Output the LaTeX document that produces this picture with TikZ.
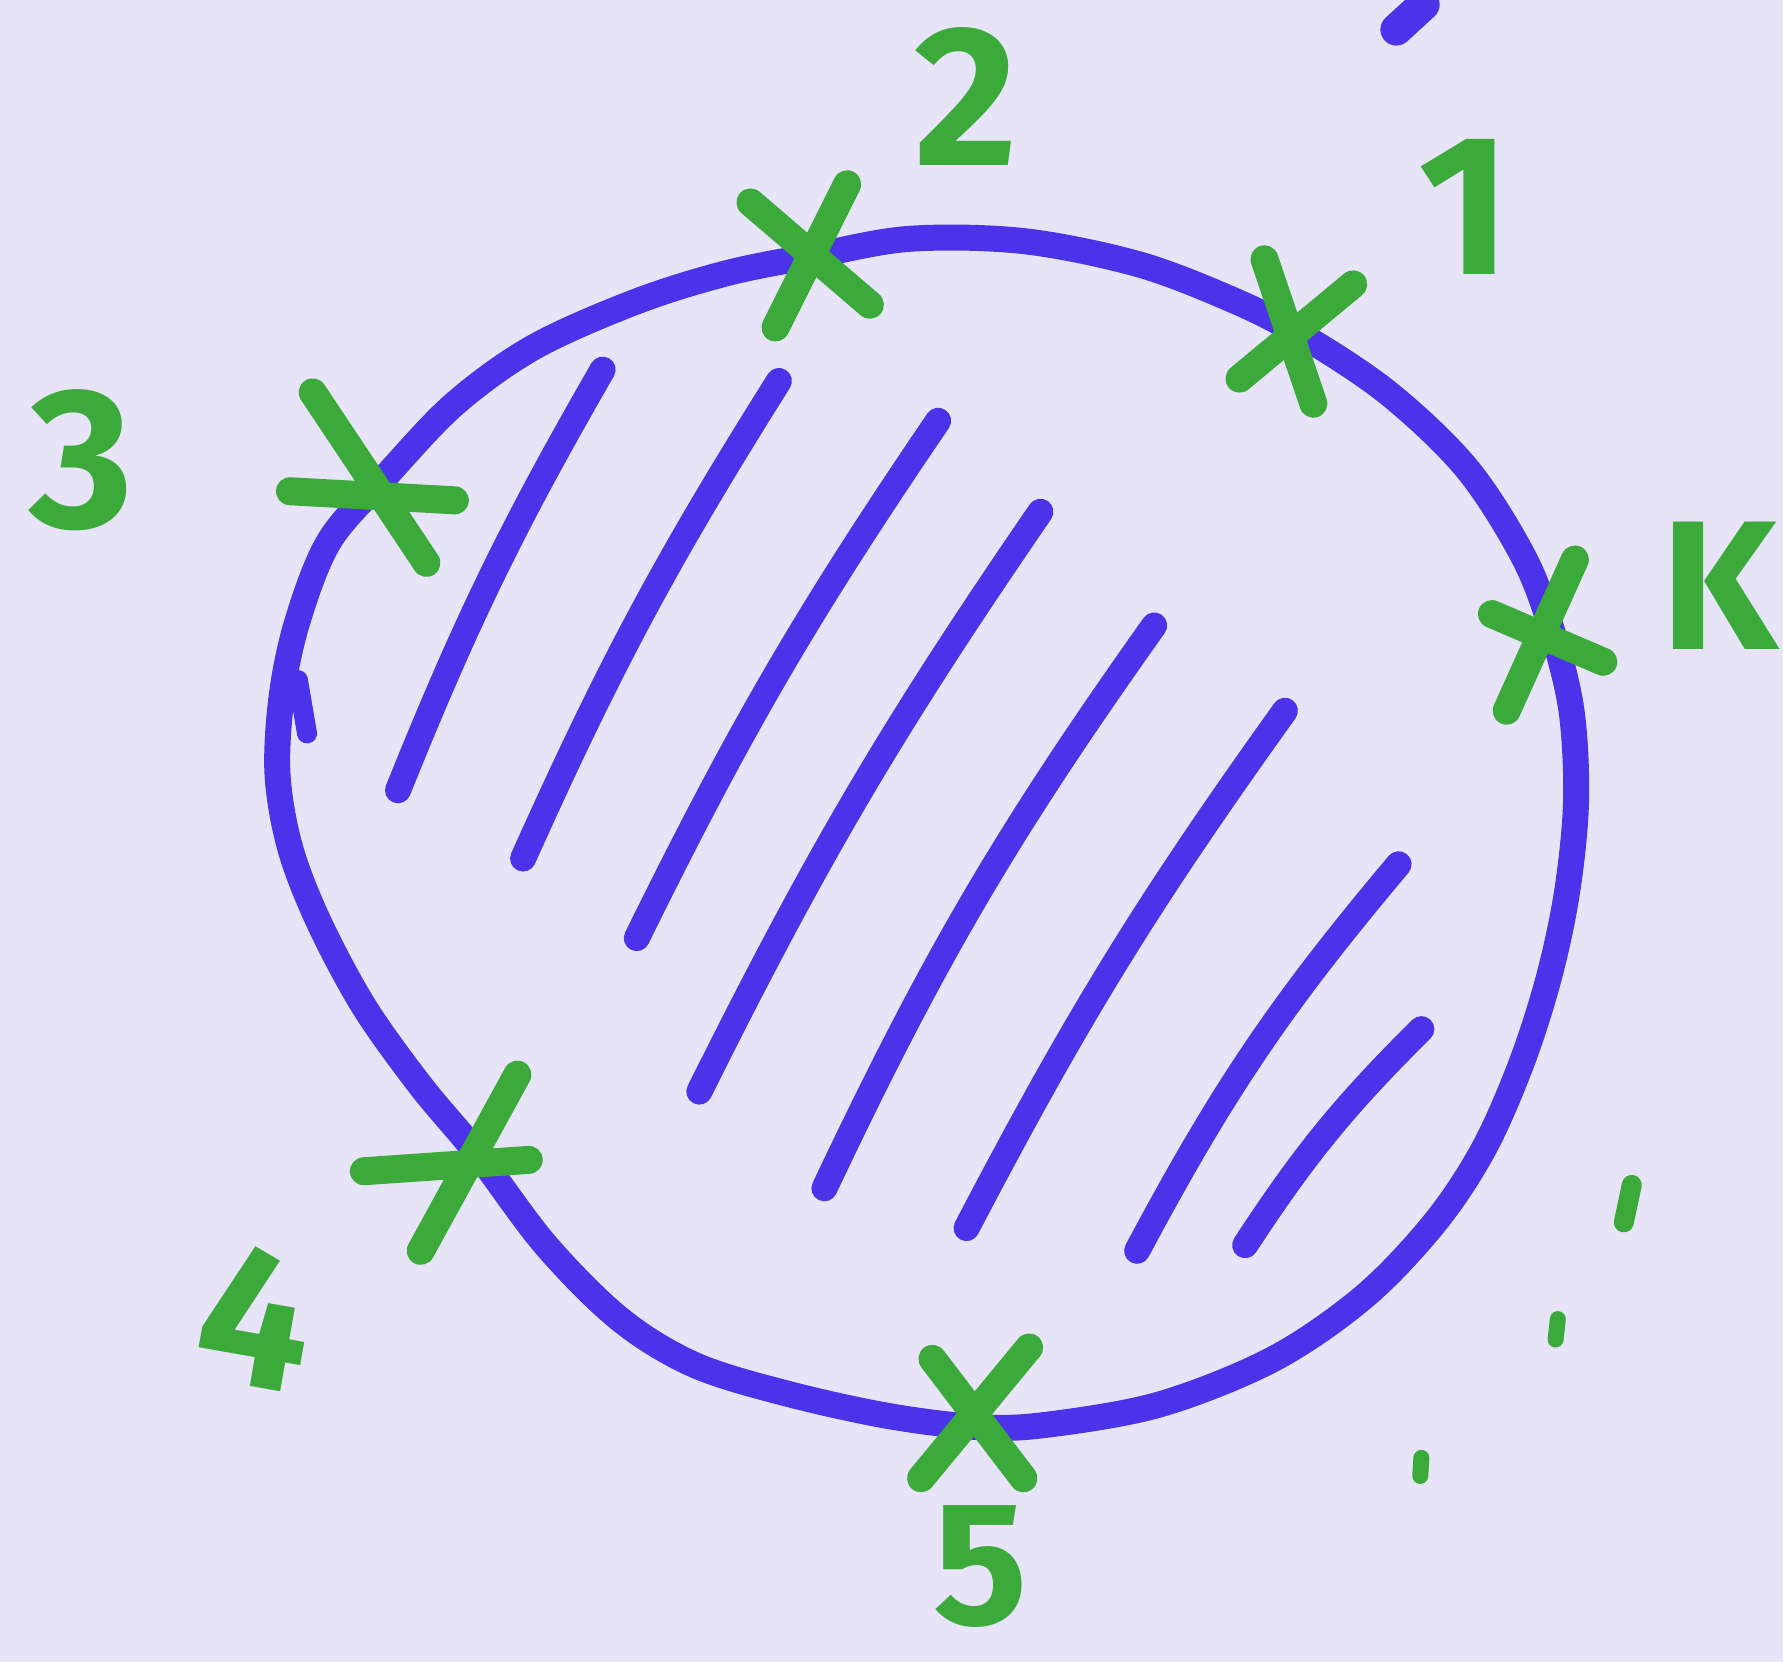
\documentclass[tikz,border=0pt]{standalone}
\usepackage{fontspec}
\setmainfont{Fira Sans}
\definecolor{bg}{HTML}{E8E4F8}
\definecolor{ink}{HTML}{4A33E8}
\definecolor{mark}{HTML}{3BAA3A}
\begin{document}
\begin{tikzpicture}[x=0.01cm,y=-0.01cm,
  blueline/.style={draw=ink,line width=6.5pt,line cap=round,line join=round},
  greenline/.style={draw=mark,line width=7pt,line cap=round},
  lbl/.style={text=mark,font=\fontsize{50}{50}\selectfont\bfseries,inner sep=0pt}]
\fill[bg] (0,0) rectangle (1568,1462);
\useasboundingbox (0,0) rectangle (1568,1462);
% outline
\draw[blueline] plot[smooth cycle,tension=0.55] coordinates {
 (715,225) (800,210) (900,212) (1000,232) (1080,262) (1140,292) (1220,345)
 (1290,412) (1340,490) (1365,555) (1382,625) (1386,705) (1378,785) (1362,860)
 (1338,935) (1305,1010) (1262,1075) (1200,1140) (1120,1195) (1020,1235)
 (920,1253) (860,1255) (780,1245) (690,1225) (610,1200) (545,1160) (480,1095)
 (420,1015) (370,955) (320,885) (280,810) (255,745) (244,680) (248,610)
 (262,545) (290,475) (340,418) (400,355) (470,305) (560,265) (640,240)};
\draw[blueline,line width=5pt] (262,598) -- (270,645);
% hatching
\draw[blueline] (530,325) to[bend right=4] (350,695);
\draw[blueline] (685,335) to[bend right=4] (460,755);
\draw[blueline] (825,370) to[bend right=4] (560,825);
\draw[blueline] (915,450) to[bend right=4] (615,960);
\draw[blueline] (1015,550) to[bend right=5] (725,1045);
\draw[blueline] (1130,625) to[bend right=4] (850,1080);
\draw[blueline] (1230,760) to[bend right=6] (1000,1100);
\draw[blueline] (1250,905) to[bend right=6] (1095,1095);
\draw[blueline,line width=8pt] (1252,4) -- (1228,26);
% crosses
\draw[greenline] (660,178) -- (765,268);
\draw[greenline] (745,162) -- (682,288);
\draw[greenline] (1112,228) -- (1155,355);
\draw[greenline] (1090,333) -- (1190,250);
\draw[greenline] (275,345) -- (375,495);
\draw[greenline] (255,432) -- (400,440);
\draw[greenline] (1385,492) -- (1325,625);
\draw[greenline] (1312,540) -- (1410,582);
\draw[greenline] (455,945) -- (370,1100);
\draw[greenline] (320,1030) -- (465,1020);
\draw[greenline] (905,1185) -- (810,1300);
\draw[greenline] (820,1195) -- (900,1300);
% specks
\draw[greenline,line width=5pt] (1435,1042) -- (1428,1075);
\draw[greenline,line width=4pt] (1370,1160) -- (1368,1178);
\draw[greenline,line width=4pt] (1250,1282) -- (1249,1298);
% labels
\node[lbl] (l2) at (850,85) {2};
\node[lbl] (l1) at (1288,182) {1};
\node[lbl] (l3) at (72,405) {3};
\node[lbl,font=\fontsize{46}{46}\selectfont\bfseries] (lK) at (1512,515) {K};
\node[lbl,rotate=-10] (l4) at (225,1158) {4};
\node[lbl,font=\fontsize{44}{44}\selectfont\bfseries] (l5) at (862,1378) {5};
\end{tikzpicture}
\end{document}
